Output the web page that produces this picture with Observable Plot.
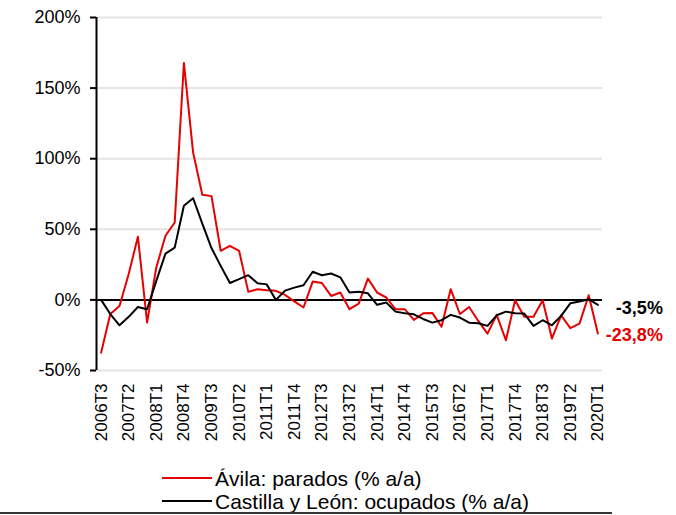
<!DOCTYPE html>
<html>
<head>
<meta charset="utf-8">
<script src="https://cdn.jsdelivr.net/npm/d3@7"></script>
<script src="https://cdn.jsdelivr.net/npm/@observablehq/plot@0.6"></script>
<style>
  html, body { margin: 0; padding: 0; background: #fff; }
  body { width: 676px; height: 515px; position: relative; overflow: hidden; font-family: "Liberation Sans", Arial, sans-serif; }
  #chart { position: absolute; left: 0; top: 0; }
  #legend { position: absolute; left: 162px; top: 466.5px; font-family: "Liberation Sans", Arial, sans-serif; font-size: 21px; color: #000; }
  .row { display: flex; align-items: center; height: 23px; line-height: 23px; white-space: nowrap; }
  .sw { width: 50px; height: 2px; margin-right: 3px; }
  #bottomline { position: absolute; left: 0; top: 512px; width: 612px; height: 0; border-top: 2px solid #333; }
</style>
</head>
<body>
<div id="chart"></div>
<div id="legend"></div>
<div id="bottomline"></div>
<script>
const quarters = [
  "2006T3","2006T4",
  "2007T1","2007T2","2007T3","2007T4",
  "2008T1","2008T2","2008T3","2008T4",
  "2009T1","2009T2","2009T3","2009T4",
  "2010T1","2010T2","2010T3","2010T4",
  "2011T1","2011T2","2011T3","2011T4",
  "2012T1","2012T2","2012T3","2012T4",
  "2013T1","2013T2","2013T3","2013T4",
  "2014T1","2014T2","2014T3","2014T4",
  "2015T1","2015T2","2015T3","2015T4",
  "2016T1","2016T2","2016T3","2016T4",
  "2017T1","2017T2","2017T3","2017T4",
  "2018T1","2018T2","2018T3","2018T4",
  "2019T1","2019T2","2019T3","2019T4",
  "2020T1"
];
const tickLabels = ["2006T3","2007T2","2008T1","2008T4","2009T3","2010T2","2011T1","2011T4","2012T3","2013T2","2014T1","2014T4","2015T3","2016T2","2017T1","2017T4","2018T3","2019T2","2020T1"];
const avilaParados = [-37.4,-10,-4.3,18.4,44.7,-16,23,45.4,54.8,167.8,104.5,74.5,73.5,34.8,38.3,34.8,5.7,7.6,6.9,6.4,3.5,-1,-5.4,13,12,2.8,5.2,-6.6,-2.6,15.1,5.2,1.7,-6.6,-6.6,-14.2,-9.5,-9.2,-19,7.6,-10,-5,-14.9,-23.9,-10.6,-28.6,-0.2,-12,-12,-0.2,-27.4,-10.9,-20,-16.8,3.3,-23.8];
const cylOcupados = [0,-10,-18,-12,-5,-6.6,13.5,32.8,37,66.7,72,54,36.7,24.1,12,14.7,17.5,11.8,11,0,6.6,8.7,10.4,19.9,17.5,18.7,16,5.2,5.7,4.7,-3.5,-1.9,-8.3,-9.5,-10.2,-13.5,-16.1,-14.4,-10.6,-12.5,-16.1,-16.5,-18.4,-10.9,-8.3,-9.5,-9.7,-18.4,-14.4,-18,-11.3,-2.4,-1.2,0.5,-3.5];
const yTicks = [-50, 0, 50, 100, 150, 200];
const seriesNames = ["Ávila: parados (% a/a)", "Castilla y León: ocupados (% a/a)"];
const seriesColors = ["#e60000", "#000000"];

const rows = quarters.map((q, i) => ({i, q, avila: avilaParados[i], cyl: cylOcupados[i]}));
const xDomain = [-0.5, quarters.length - 0.5];
const tickIdx = tickLabels.map(t => quarters.indexOf(t));
const last = rows[rows.length - 1];
const fmt = v => v.toFixed(1).replace(".", ",") + "%";

const chart = Plot.plot({
  width: 676,
  height: 458,
  marginTop: 17,
  marginBottom: 88,
  marginLeft: 96,
  marginRight: 74,
  style: {fontFamily: "'Liberation Sans', Arial, sans-serif", color: "#000", background: "transparent"},
  x: {type: "linear", domain: xDomain},
  y: {domain: [-50, 200]},
  marks: [
    Plot.gridY(yTicks, {stroke: "#e4e4e4", strokeOpacity: 1, strokeWidth: 2}),
    Plot.ruleY([0], {stroke: "#000", strokeWidth: 2}),
    Plot.ruleX([xDomain[0]], {stroke: "#000", strokeWidth: 2}),
    Plot.axisY(yTicks, {tickFormat: d => d + "%", fontSize: 18, tickSize: 6, tickPadding: 10, strokeWidth: 2, label: null}),
    Plot.axisX(tickIdx, {tickFormat: i => quarters[i], tickRotate: -90, tickSize: 0, tickPadding: 13, fontSize: 17, label: null}),
    Plot.line(rows, {x: "i", y: "avila", stroke: seriesColors[0], strokeWidth: 2}),
    Plot.line(rows, {x: "i", y: "cyl", stroke: seriesColors[1], strokeWidth: 2}),
    Plot.text([last], {x: "i", y: "cyl", text: d => fmt(d.cyl), dx: 65, dy: 3, textAnchor: "end", fontSize: 18, fontWeight: "bold", fill: seriesColors[1]}),
    Plot.text([last], {x: "i", y: "avila", text: d => fmt(d.avila), dx: 65, dy: 2, textAnchor: "end", fontSize: 18, fontWeight: "bold", fill: seriesColors[0]})
  ]
});
document.getElementById("chart").appendChild(chart);

const legend = document.getElementById("legend");
seriesNames.forEach((name, k) => {
  const row = document.createElement("div");
  row.className = "row";
  const sw = document.createElement("span");
  sw.className = "sw";
  sw.style.background = seriesColors[k];
  const label = document.createElement("span");
  label.textContent = name;
  row.appendChild(sw);
  row.appendChild(label);
  legend.appendChild(row);
});
</script>
</body>
</html>
